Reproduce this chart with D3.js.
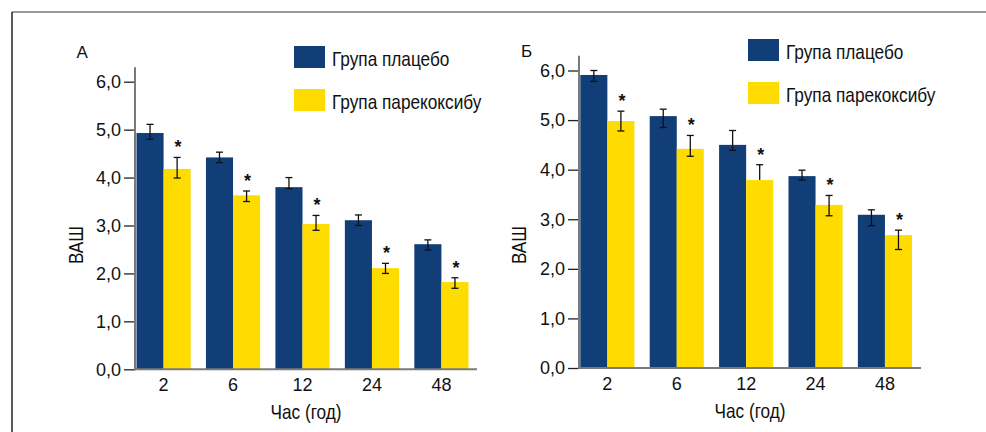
<!DOCTYPE html>
<html>
<head>
<meta charset="utf-8">
<script src="https://cdn.jsdelivr.net/npm/d3@7"></script>
<style>
  html, body { margin: 0; padding: 0; background: #fff; }
  svg { display: block; }
  .narrow { font-family: "Liberation Sans", Arial, sans-serif; }
  .reg { font-family: "Liberation Sans", Arial, sans-serif; }
</style>
</head>
<body>
<svg id="chart" width="986" height="432"></svg>
<script>
// ---- data ----
const hours = ["2", "6", "12", "24", "48"];
const seriesNames = ["Група плацебо", "Група парекоксибу"];
const yTickValues = [0, 1, 2, 3, 4, 5, 6];
const yTickLabels = ["0,0", "1,0", "2,0", "3,0", "4,0", "5,0", "6,0"];
const xTitle = "Час (год)";
const yTitle = "ВАШ";

// Panel А
const aPlacebo          = [4.93, 4.42, 3.80, 3.11, 2.61];
const aPlaceboErrUp     = [0.18, 0.11, 0.20, 0.11, 0.09];
const aPlaceboErrDown   = [0.13, 0.11, 0.03, 0.11, 0.12];
const aParecoxib        = [4.18, 3.63, 3.03, 2.11, 1.82];
const aParecoxibErrUp   = [0.24, 0.09, 0.18, 0.10, 0.09];
const aParecoxibErrDown = [0.19, 0.13, 0.13, 0.11, 0.13];
const aSignificant      = [true, true, true, true, true];

// Panel Б
const bPlacebo          = [5.91, 5.08, 4.50, 3.87, 3.09];
const bPlaceboErrUp     = [0.09, 0.14, 0.29, 0.12, 0.10];
const bPlaceboErrDown   = [0.13, 0.23, 0.11, 0.08, 0.22];
const bParecoxib        = [4.98, 4.42, 3.79, 3.29, 2.68];
const bParecoxibErrUp   = [0.20, 0.27, 0.31, 0.19, 0.10];
const bParecoxibErrDown = [0.20, 0.15, 0.00, 0.22, 0.29];
const bSignificant      = [true, true, true, true, true];

const colors = ["#113e76", "#ffdc00"];
const NARROW = 0.82; // horizontal condensing of title/legend typeface

// ---- drawing ----
const svg = d3.select("#chart");

// frame
svg.append("line").attr("x1", 12).attr("x2", 986).attr("y1", 12).attr("y2", 12)
  .attr("stroke", "#777").attr("stroke-width", 1.5);
svg.append("line").attr("x1", 12).attr("x2", 12).attr("y1", 12).attr("y2", 432)
  .attr("stroke", "#222").attr("stroke-width", 1.5);

function narrowText(parent, x, y, txt, opts) {
  const rot = opts && opts.rotate ? ` rotate(${opts.rotate})` : "";
  return parent.append("text").attr("class", "narrow")
    .attr("transform", `translate(${x},${y})${rot} scale(${NARROW},1)`)
    .attr("text-anchor", (opts && opts.anchor) || "start")
    .attr("font-size", 21).attr("fill", "#111")
    .text(txt);
}

function panel(cfg) {
  const g = svg.append("g");
  const y = d3.scaleLinear().domain([0, 6]).range([cfg.y0, cfg.y6]);
  const x0 = d3.scaleBand().domain(hours).range([cfg.bx0, cfg.bx1]).paddingInner(0.22).paddingOuter(0);
  const x1 = d3.scaleBand().domain([0, 1]).range([0, x0.bandwidth()]).padding(0);

  const series = [
    { vals: cfg.placebo, up: cfg.placeboUp, down: cfg.placeboDown },
    { vals: cfg.parecoxib, up: cfg.parecoxibUp, down: cfg.parecoxibDown }
  ];

  // bars
  series.forEach((s, si) => {
    g.append("g").selectAll("rect").data(hours).join("rect")
      .attr("x", h => x0(h) + x1(si))
      .attr("width", x1.bandwidth())
      .attr("y", (h, i) => y(s.vals[i]))
      .attr("height", (h, i) => y(0) - y(s.vals[i]))
      .attr("fill", colors[si]);
  });

  // error bars
  const cap = 3.5;
  series.forEach((s, si) => {
    const eg = g.append("g").attr("stroke", "#111").attr("stroke-width", 1.3).attr("fill", "none");
    hours.forEach((h, i) => {
      const cx = x0(h) + x1(si) + x1.bandwidth() / 2;
      const yt = y(s.vals[i] + s.up[i]);
      const yb = y(s.vals[i] - s.down[i]);
      eg.append("line").attr("x1", cx).attr("x2", cx).attr("y1", yt).attr("y2", yb);
      eg.append("line").attr("x1", cx - cap).attr("x2", cx + cap).attr("y1", yt).attr("y2", yt);
      if (s.down[i] > 0) {
        eg.append("line").attr("x1", cx - cap).attr("x2", cx + cap).attr("y1", yb).attr("y2", yb);
      }
    });
  });

  // asterisks
  g.append("g").selectAll("text").data(hours.filter((h, i) => cfg.sig[i])).join("text")
    .attr("class", "reg")
    .attr("x", h => x0(h) + x1(1) + x1.bandwidth() / 2 + 1)
    .attr("y", h => { const i = hours.indexOf(h); return y(cfg.parecoxib[i] + cfg.parecoxibUp[i]) - 4; })
    .attr("text-anchor", "middle")
    .attr("font-size", 18).attr("font-weight", "bold").attr("fill", "#111")
    .text("*");

  // y axis
  const yAxis = d3.axisLeft(y).tickValues(yTickValues)
    .tickFormat((d, i) => yTickLabels[i]).tickSize(11).tickPadding(3);
  const ya = g.append("g").attr("transform", `translate(${cfg.ax0},0)`).call(yAxis);
  ya.select(".domain").remove();
  ya.selectAll(".tick line").attr("stroke", "#222").attr("stroke-width", 1.3);
  ya.selectAll(".tick text").attr("class", "reg").attr("font-size", 18).attr("fill", "#111");

  // axis lines
  g.append("line").attr("x1", cfg.ax0).attr("x2", cfg.ax0).attr("y1", y(6.3)).attr("y2", y(0) + 1)
    .attr("stroke", "#7a7a7a").attr("stroke-width", 2);
  g.append("line").attr("x1", cfg.ax0 - 1).attr("x2", cfg.ax1).attr("y1", y(0)).attr("y2", y(0))
    .attr("stroke", "#7a7a7a").attr("stroke-width", 2);

  // x tick labels
  g.append("g").selectAll("text").data(hours).join("text")
    .attr("class", "reg")
    .attr("x", h => x0(h) + x0.bandwidth() / 2)
    .attr("y", y(0) + 22)
    .attr("text-anchor", "middle").attr("font-size", 18).attr("fill", "#111")
    .text(h => h);

  // axis titles
  narrowText(g, (cfg.ax0 + cfg.ax1) / 2, y(0) + 50, xTitle, { anchor: "middle" });
  narrowText(g, cfg.ytx, 245, yTitle, { anchor: "middle", rotate: -90 });

  // panel letter
  g.append("text").attr("class", "reg").attr("x", cfg.lx).attr("y", cfg.ly)
    .attr("font-size", 17).attr("fill", "#111").text(cfg.letter);

  // legend
  seriesNames.forEach((name, si) => {
    g.append("rect").attr("x", cfg.legX).attr("y", cfg.legY + si * 43)
      .attr("width", 31).attr("height", 22).attr("fill", colors[si]);
    narrowText(g, cfg.legX + 38, cfg.legY + si * 43 + 19.5, name);
  });
}

panel({
  letter: "А", lx: 76.5, ly: 57.5,
  y0: 369.3, y6: 81.7, bx0: 136.5, bx1: 468.5, ax0: 135, ax1: 477, ytx: 83,
  legX: 294, legY: 46,
  placebo: aPlacebo, placeboUp: aPlaceboErrUp, placeboDown: aPlaceboErrDown,
  parecoxib: aParecoxib, parecoxibUp: aParecoxibErrUp, parecoxibDown: aParecoxibErrDown,
  sig: aSignificant
});

panel({
  letter: "Б", lx: 521, ly: 57,
  y0: 368, y6: 70.5, bx0: 580.3, bx1: 912, ax0: 579, ax1: 921, ytx: 526,
  legX: 748, legY: 39,
  placebo: bPlacebo, placeboUp: bPlaceboErrUp, placeboDown: bPlaceboErrDown,
  parecoxib: bParecoxib, parecoxibUp: bParecoxibErrUp, parecoxibDown: bParecoxibErrDown,
  sig: bSignificant
});
</script>
</body>
</html>
